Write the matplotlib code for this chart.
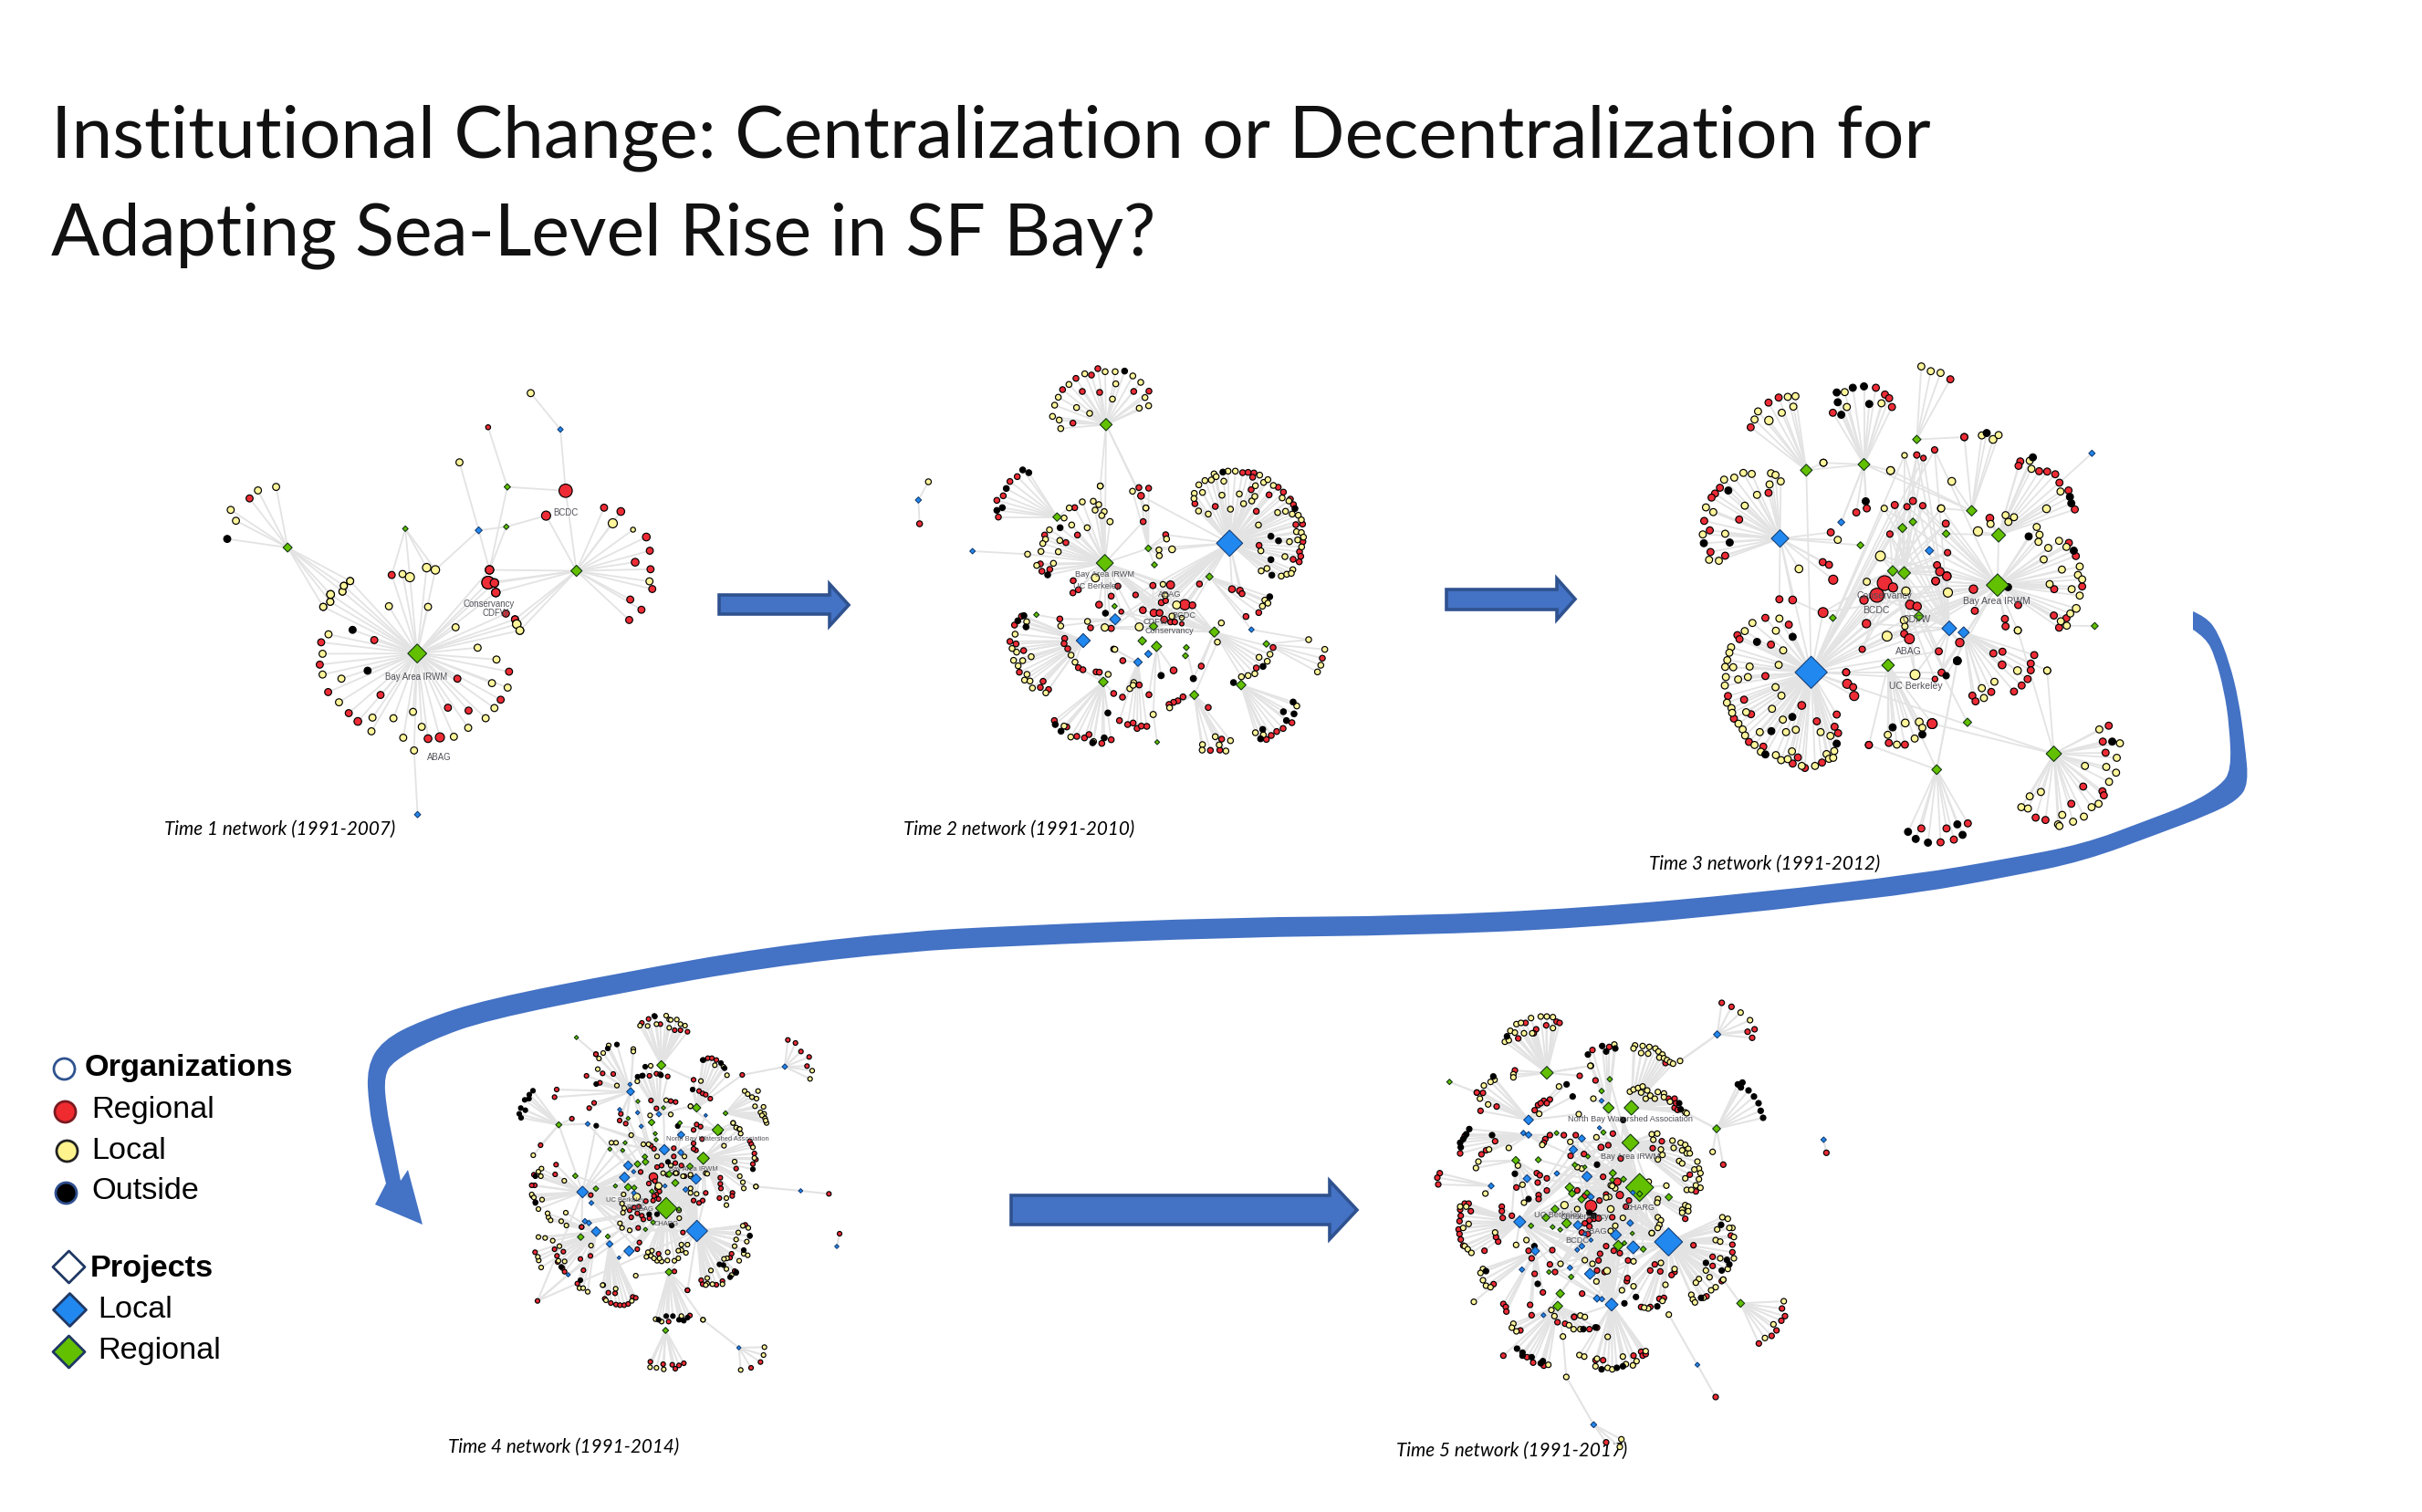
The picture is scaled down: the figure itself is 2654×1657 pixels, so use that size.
import matplotlib
matplotlib.use("Agg")
import matplotlib.pyplot as plt
from matplotlib.collections import LineCollection
from matplotlib.path import Path
from matplotlib.patches import PathPatch, Polygon

W, H = 2654, 1658
RED = "#ee2c36"
YEL = "#fff59a"
BLK = "#000000"
GRN = "#62c000"
BLU = "#2188f0"
ARROW = "#4472c4"
ARROW_EDGE = "#2f528f"

title_lines = [("Institutional Change: Centralization or Decentralization for", 172, 57.8),
               ("Adapting Sea-Level Rise in SF Bay?", 279, 56.8)]
captions = [("Time 1 network (1991-2007)", 180, 915),
            ("Time 2 network (1991-2010)", 990, 915),
            ("Time 3 network (1991-2012)", 1807, 953),
            ("Time 4 network (1991-2014)", 491, 1592),
            ("Time 5 network (1991-2017)", 1530, 1596)]

# straight arrows: tail x, head base x, tip x, shaft top, shaft bottom, head top, head bottom
straight_arrows = [(788, 909, 930, 653, 674, 641, 687),
                   (1585, 1706, 1726, 647, 669, 635, 680),
                   (1108, 1457, 1487, 1311, 1343, 1295, 1359)]

curve_outer = [(2403, 671), (2417, 677), (2430, 693), (2443, 727), (2453, 767), (2460, 817), (2464, 860),
               (2452, 878), (2420, 894), (2367, 914), (2283, 945), (2200, 962), (2100, 980), (2000, 991),
               (1929, 1000), (1738, 1018), (1546, 1026), (1355, 1028), (1100, 1038), (992, 1044), (839, 1061),
               (686, 1088), (533, 1119), (472, 1141), (431, 1164), (421, 1180), (423, 1213), (431, 1253),
               (439, 1295)]
curve_head = [(447, 1283), (463, 1343), (411, 1321)]
curve_inner = [(423, 1298), (411, 1250), (404, 1213), (402, 1170), (419, 1141), (462, 1119), (533, 1096),
               (686, 1066), (839, 1039), (992, 1022), (1100, 1016), (1355, 1006), (1546, 1005), (1738, 996),
               (1929, 979), (2100, 959), (2200, 942), (2283, 926), (2350, 901), (2400, 882), (2433, 862),
               (2445, 845), (2443, 797), (2437, 757), (2427, 720), (2417, 700), (2403, 691)]

# legend rows: text, text x, text y, bold, marker, marker x, marker y, size, fill, edge
legend_rows = [("Organizations", 93, 1171, True, "o", 70, 1172, 23, "white", "#2f528f"),
               ("Regional", 100, 1217, False, "o", 71, 1219, 23, "#f02b30", "#7a1a20"),
               ("Local", 100, 1261, False, "o", 73, 1262, 23, "#fff38d", "#222222"),
               ("Outside", 100, 1305, False, "o", 72, 1308, 23, "#000000", "#2f4f8f"),
               ("Projects", 99, 1390, True, "D", 75, 1389, 35, "white", "#1f3864"),
               ("Local", 107, 1436, False, "D", 76, 1436, 36, "#2188f0", "#1f3864"),
               ("Regional", 107, 1480, False, "D", 75, 1482, 35, "#62c000", "#1f3864")]

# ---- Time 1
t1_projects = [(672, 907, 54, "g"), (1128, 648, 32, "g"), (301, 575, 26, "g"), (930, 385, 18, "g"),
               (927, 510, 16, "g"), (638, 516, 16, "g"), (848, 521, 20, "b"), (1082, 205, 16, "b"),
               (673, 1412, 18, "b")]
t1_fans = [
    ((672, 907),
     [(397, 872), (393, 942), (417, 1028), (476, 1094), (502, 1120, 22), (567, 1037), (549, 865), (703, 1174, 22),
      (737, 1170, 26), (760, 1077), (819, 1086), (787, 986), (911, 1052), (935, 964), (599, 661), (952, 800),
      (926, 782), (879, 645, 24), (875, 685, 36), (893, 686, 24), (897, 716, 24)],
     [(418, 847), (401, 908), (401, 973), (455, 986), (448, 1060), (544, 1108), (541, 1151), (604, 1110), (632, 1171),
      (660, 1090), (685, 1137), (663, 1211), (777, 1168), (818, 1140), (868, 1110), (893, 1078), (931, 1014),
      (886, 1000), (899, 926), (845, 889), (782, 825), (703, 761), (591, 759), (403, 761), (423, 745), (424, 722, 22),
      (458, 713), (462, 695), (480, 680), (630, 658), (651, 668, 26), (699, 638, 24), (724, 645, 24), (957, 815, 24),
      (966, 835, 22)],
     [(487, 833), (530, 961)]),
    ((1128, 648),
     [(1207, 450), (1255, 462, 22), (1328, 542, 22), (1338, 585), (1296, 621, 22), (1340, 643), (1345, 705),
      (1282, 738), (1314, 770), (1279, 802), (1041, 475, 26), (879, 645, 24), (875, 685, 36), (893, 686, 24),
      (897, 716, 24), (952, 800)],
     [(1232, 499, 26), (1290, 519, 14), (1337, 681), (957, 815, 24), (966, 835, 22)],
     []),
    ((301, 575),
     [(192, 421)],
     [(268, 385), (216, 396), (138, 457, 20), (153, 491), (403, 761), (423, 745), (424, 722, 22), (458, 713),
      (462, 695), (480, 680)],
     [(128, 548)]),
]
t1_big_regional = [(1097, 397, 38)]
t1_small_regional = [(875, 198, 14)]
t1_small_local = [(793, 308), (997, 91)]
t1_links = [((930, 385), (875, 198)), ((930, 385), (1097, 397)), ((930, 385), (879, 645)),
            ((927, 510), (1041, 475)), ((927, 510), (848, 521)), ((927, 510), (879, 645)),
            ((848, 521), (793, 308)), ((848, 521), (879, 645)), ((848, 521), (724, 645)),
            ((1082, 205), (997, 91)), ((1082, 205), (1097, 397)), ((1097, 397), (1128, 648)),
            ((638, 516), (599, 661)), ((638, 516), (651, 668)), ((638, 516), (699, 638)), ((638, 516), (724, 645)),
            ((673, 1412), (663, 1211))]
t1_labels = [("BCDC", 1096, 463), ("Conservancy", 878, 749), ("CDFW", 895, 777),
             ("Bay Area IRWM", 668, 977), ("ABAG", 736, 1230)]

# ---- Time 2
t2_projects = [(636, 259, 40, "g"), (475, 563, 28, "g"), (632, 714, 56, "g"), (775, 666, 22, "g"), (795, 720, 20, "g"),
               (976, 759, 24, "g"), (407, 884, 18, "g"), (664, 856, 18, "g"), (792, 922, 28, "g"), (992, 941, 34, "g"),
               (755, 970, 28, "g"), (802, 988, 34, "g"), (900, 992, 20, "g"), (897, 1019, 20, "g"), (1163, 980, 22, "g"),
               (627, 1105, 32, "g"), (1080, 1115, 32, "g"), (926, 1148, 30, "g"), (804, 1303, 16, "g"),
               (1042, 649, 86, "b"), (561, 969, 46, "b"), (666, 899, 36, "b"), (775, 1013, 24, "b"), (741, 1040, 28, "b"),
               (1114, 933, 18, "b"), (197, 675, 18, "b"), (19, 507, 20, "b")]
t2_fans = [
    ((636, 259),
     [(609, 75), (588, 96), (537, 107), (493, 144), (558, 150), (615, 153), (727, 150), (777, 149), (527, 254)],
     [(566, 92), (633, 85), (666, 85), (724, 99), (750, 120), (668, 125), (514, 127), (479, 169), (467, 195), (539, 203),
      (582, 222), (460, 232), (482, 244), (487, 272), (657, 175), (764, 170), (745, 205), (776, 197), (617, 461), (767, 533)],
     [(697, 83)]),
    ((475, 563),
     [(344, 430), (320, 446), (298, 493), (277, 508), (282, 563)],
     [(515, 533), (498, 566)],
     [(362, 408), (382, 417), (308, 469), (277, 541), (295, 532)]),
    ((632, 714),
     [(533, 532), (542, 622), (434, 622), (504, 647), (420, 717), (425, 741), (451, 735), (528, 772), (527, 812),
      (545, 802), (675, 790), (653, 823), (613, 851, 22)],
     [(558, 513), (594, 511), (612, 522), (600, 540), (630, 545), (622, 558), (649, 578, 20), (523, 589), (574, 598),
      (450, 605), (437, 636), (428, 650), (484, 640), (422, 676), (479, 677), (378, 685), (463, 715), (408, 722),
      (617, 461), (601, 763, 26)],
     [(485, 598), (444, 753)]),
    ((1042, 649),
     [(1085, 417), (1103, 416), (1122, 418), (1118, 432), (1113, 473), (1202, 465), (1219, 481), (1172, 490), (928, 519),
      (995, 528), (1130, 544), (1242, 504), (1252, 522), (1260, 588), (1282, 586), (1283, 644), (1272, 677), (1276, 692),
      (1251, 702), (1271, 710), (1139, 656), (1050, 800, 22), (1076, 805, 22), (1083, 815), (943, 783)],
     [(991, 421), (961, 443), (982, 441), (998, 430), (1037, 412), (1061, 412), (941, 457), (1023, 445), (926, 485),
      (925, 502), (953, 482), (940, 543), (972, 553), (1017, 491), (1074, 487), (1045, 537), (1088, 519), (1115, 510),
      (1125, 495), (1127, 460), (1141, 425), (1154, 449), (1168, 440), (1186, 459), (1215, 500), (1237, 510), (1200, 548),
      (1226, 544), (1248, 553), (1268, 557), (1278, 572), (1137, 589), (1262, 611), (1278, 614), (1285, 629), (1239, 644),
      (1266, 638), (1279, 661), (1145, 674), (1224, 693), (1250, 736), (1146, 740), (1165, 732), (1212, 757), (1230, 751),
      (1245, 748)],
     [(1020, 415), (1257, 535), (1178, 626), (1203, 641), (1178, 703), (1181, 754)]),
    ((775, 666),
     [(832, 621), (758, 578), (744, 466), (776, 468), (751, 493, 22)],
     [(835, 635), (810, 671), (811, 690), (853, 669, 22), (723, 478), (767, 533)],
     []),
    ((561, 969),
     [(358, 889), (335, 918), (320, 972), (340, 980), (365, 1002), (351, 1073), (429, 1103), (420, 1123), (447, 1130),
      (500, 962), (498, 979), (510, 996)],
     [(375, 907), (337, 948), (327, 995), (342, 1007), (390, 1022), (332, 1034), (362, 1035), (347, 1052), (376, 1080),
      (368, 1099), (386, 1102), (394, 1125), (438, 1141), (521, 1017), (534, 1040)],
     [(366, 887), (346, 904), (373, 924)]),
    ((666, 899),
     [(484, 898), (585, 927)],
     [(487, 921), (575, 906)],
     [(634, 879)]),
    ((627, 1105),
     [(545, 1058), (560, 1065), (603, 1072), (614, 1073), (466, 1232), (507, 1253), (540, 1284), (565, 1289), (580, 1278),
      (622, 1307), (653, 1295), (661, 1143)],
     [(643, 1080), (498, 1250), (520, 1286), (595, 1301)],
     [(469, 1245), (488, 1267), (642, 1207), (630, 1289), (592, 1305)]),
    ((741, 1040),
     [(691, 1035), (661, 997), (745, 1115), (690, 1155), (680, 1232), (707, 1245), (725, 1240), (738, 1258), (752, 1250),
      (770, 1251)],
     [(665, 998), (727, 1107), (714, 1127), (725, 1116)],
     []),
    ((802, 988), [(858, 1067, 22), (777, 1147)], [(791, 1212, 20)], [(817, 1084, 20)]),
    ((926, 1148),
     [(889, 1154), (872, 1167), (858, 1172), (843, 1179), (972, 1189), (1016, 1293), (979, 1330), (1010, 1329)],
     [(845, 1190), (995, 1285), (953, 1311), (952, 1329), (1008, 1312), (1045, 1298), (1030, 1332)],
     []),
    ((1080, 1115),
     [(1247, 1239), (1218, 1258), (1197, 1268), (1179, 1281), (1163, 1294)],
     [(1263, 1184), (1127, 1272), (1153, 1279)],
     [(1055, 1107), (1251, 1171), (1219, 1203), (1254, 1210), (1229, 1232), (1151, 1261), (1144, 1292)]),
    ((992, 941),
     [(1185, 992), (1130, 1059), (949, 1053)],
     [(1015, 911), (1002, 974), (1139, 1024), (1175, 1014), (1166, 1037), (1125, 1078), (1103, 1084), (1081, 1088)],
     [(1152, 1054), (923, 1094, 20)]),
    ((1163, 980), [(1347, 1027)], [(1302, 966), (1355, 998), (1342, 1050), (1331, 1072)], []),
    ((976, 759), [(1138, 877), (1096, 890)], [(1158, 836), (1168, 846), (1150, 856)], [(1174, 825)]),
    ((19, 507), [(23, 585)], [(52, 447)], []),
]
t2_center_hubs = [(632, 714), (1042, 649), (792, 922), (992, 941)]
t2_center_regional = [(848, 786, 26), (895, 851, 34), (920, 853, 22), (793, 878, 24), (812, 878, 22), (757, 869, 22),
                      (790, 788, 20), (733, 819, 18), (818, 844, 20), (832, 838, 18), (827, 900, 22), (848, 908, 18),
                      (862, 908, 18), (885, 914, 14), (686, 874, 16), (653, 929, 20)]
t2_center_local = [(823, 784, 18), (868, 852, 26), (853, 889, 20), (745, 924, 26), (632, 926, 24), (830, 820, 20),
                   (885, 894, 16)]
t2_center_outside = []
t2_links = [((636, 259), (632, 714)), ((636, 259), (751, 493)), ((197, 675), (378, 685)), ((1042, 649), (751, 493)),
            ((1042, 649), (832, 621)), ((1042, 649), (853, 669)), ((775, 666), (632, 714)), ((775, 666), (1042, 649)),
            ((1114, 933), (1302, 966)), ((1114, 933), (976, 759)), ((804, 1303), (791, 1212)), ((926, 1148), (1002, 974)),
            ((900, 992), (923, 1094)), ((407, 884), (484, 898)), ((795, 720), (775, 666)), ((632, 714), (758, 578))]
t2_labels = [("Bay Area IRWM", 632, 750), ("UC Berkeley", 605, 787), ("ABAG", 846, 815), ("BCDC", 893, 884),
             ("CDFW", 800, 905), ("Conservancy", 843, 935)]

# ---- Time 3
t3_projects = [(468, 368, 34, "g"), (633, 351, 34, "g"), (784, 277, 24, "g"), (941, 488, 30, "g"), (1018, 560, 40, "g"),
               (1015, 708, 64, "g"), (715, 666, 30, "g"), (748, 672, 36, "g"), (743, 539, 26, "g"), (773, 521, 22, "g"),
               (868, 556, 22, "g"), (623, 590, 20, "g"), (544, 805, 20, "g"), (790, 800, 28, "g"), (702, 945, 36, "g"),
               (841, 1254, 28, "g"), (1176, 1207, 44, "g"), (929, 1114, 24, "g"), (1293, 829, 20, "g"),
               (393, 570, 50, "b"), (482, 966, 92, "b"), (877, 836, 42, "b"), (918, 848, 32, "b"), (820, 606, 24, "b"),
               (568, 522, 20, "b"), (1285, 318, 18, "b")]
t3_fans = [
    ((468, 368), [(309, 241), (360, 168), (389, 153)],
     [(320, 218), (330, 194), (361, 221, 24), (398, 198), (415, 151), (437, 149), (431, 180), (517, 346)], []),
    ((633, 351), [(667, 124), (693, 144), (705, 155), (713, 181), (544, 198), (641, 481), (611, 493)],
     [(578, 137), (584, 181), (683, 170), (517, 346), (709, 369, 22)],
     [(555, 138), (601, 124), (633, 120), (558, 167), (648, 172), (568, 204), (638, 460)]),
    ((784, 277), [(880, 99), (920, 270)], [(797, 61), (824, 75), (852, 80)], []),
    ((941, 488), [(920, 270)], [(970, 265), (1002, 277, 22), (1018, 264), (884, 401, 22), (853, 481), (709, 369, 22)],
     [(984, 258)]),
    ((1018, 560), [(1080, 342), (1075, 355), (1134, 371), (1157, 372), (1180, 380), (1192, 405), (1218, 428), (1236, 484),
                   (993, 510, 22)],
     [(1107, 340), (1112, 364), (1195, 431), (1155, 482, 22), (1038, 501), (1062, 507), (1046, 521), (995, 527), (959, 549, 26)],
     [(1116, 330), (1222, 447), (1226, 466)]),
    ((393, 570),
     [(221, 420), (207, 437), (197, 449), (360, 435), (276, 514), (176, 518), (192, 546), (194, 610), (236, 621), (538, 552),
      (515, 640), (533, 648), (545, 692, 26), (391, 750), (429, 752, 22)],
     [(233, 396), (262, 390), (288, 376), (312, 379), (367, 377), (380, 382), (395, 401), (363, 410), (327, 441), (292, 473),
      (181, 478), (202, 492), (172, 558), (236, 556), (190, 633), (218, 636), (447, 660, 22), (558, 574)],
     [(245, 428), (175, 584), (249, 582)]),
    ((1015, 708),
     [(1219, 583), (1239, 622), (1257, 712), (1177, 720), (1074, 767), (950, 784), (946, 720, 24), (1036, 808), (1038, 830),
      (1176, 798), (1212, 806), (1191, 834), (870, 681, 24), (838, 696, 22)],
     [(1127, 536), (1135, 559), (1132, 580), (1191, 577), (1212, 595), (1160, 598), (1147, 632), (1199, 662), (1250, 653),
      (1245, 678), (1257, 691), (1164, 705), (1227, 720), (1250, 739), (1240, 777, 22), (1223, 792), (1196, 815), (1213, 828),
      (1073, 842), (873, 730, 26)],
     [(1104, 564), (1233, 606), (1045, 714)]),
    ((482, 966),
     [(351, 805), (418, 825), (271, 856), (277, 868), (367, 884), (351, 977), (290, 1047), (244, 1036), (455, 1064, 22),
      (310, 1090), (261, 1103), (555, 1091), (498, 1111), (549, 1127), (559, 1146), (304, 1172), (345, 1186), (444, 1218),
      (429, 1236), (464, 1249), (513, 1233), (582, 966), (585, 1000, 26), (602, 1010), (605, 1036, 26)],
     [(391, 807), (314, 820), (292, 844), (381, 843), (402, 901), (253, 892), (248, 908), (242, 930), (236, 950), (259, 951),
      (306, 949), (389, 944), (238, 980), (273, 987), (301, 980), (235, 1005), (380, 1010), (397, 1035), (241, 1056), (254, 1072),
      (370, 1074), (296, 1084), (256, 1086), (274, 1118), (401, 1106), (286, 1135), (335, 1143), (410, 1143), (438, 1136),
      (509, 1143), (537, 1154), (293, 1153), (320, 1181), (427, 1200), (338, 1201), (381, 1211), (396, 1226), (415, 1223),
      (455, 1243), (493, 1243), (526, 1208), (548, 1199), (533, 1222), (545, 1219)],
     [(429, 861), (327, 876), (428, 1098), (368, 1140), (555, 1177), (351, 1209)]),
    ((702, 945), [(582, 966), (704, 1175), (750, 1180), (828, 1118, 28), (647, 1181)],
     [(751, 1116, 22), (791, 1113, 22), (800, 1130), (701, 1151), (727, 1180), (778, 1162)], [(715, 1129), (800, 1150)]),
    ((841, 1254), [(797, 1428), (869, 1428), (852, 1469), (890, 1461), (930, 1413), (647, 1181)], [],
     [(759, 1438), (781, 1459), (816, 1470), (900, 1416), (915, 1447), (900, 932, 22)]),
    ((1176, 1207),
     [(1333, 1124), (1316, 1171), (1324, 1204), (1260, 1304), (1315, 1318), (1319, 1330), (1226, 1355), (1124, 1396), (1152, 1403),
      (828, 1118, 28)],
     [(1306, 1135), (1365, 1176), (1356, 1219), (1265, 1243), (1326, 1246), (1354, 1263), (1334, 1290), (1139, 1320), (1107, 1333),
      (1304, 1355), (1284, 1365), (1083, 1365), (1102, 1369), (1262, 1393), (1231, 1408), (1200, 1388), (1188, 1416), (1192, 1421),
      (1157, 961, 20), (1073, 842)],
     [(1343, 1171)]),
    ((918, 848),
     [(1003, 910), (1029, 905), (1120, 915), (1110, 940), (1028, 944, 22), (1110, 960), (1101, 986), (1084, 1005), (1062, 1023),
      (997, 1024), (943, 1035), (952, 1052)],
     [(1072, 961, 22), (1157, 961, 20), (1006, 994), (970, 1013), (976, 1042)], [(900, 932, 22)]),
]
t3_center_hubs = [(715, 666), (748, 672), (877, 836), (482, 966), (1015, 708)]
t3_center_regional = [(692, 702, 42), (670, 738, 40), (716, 715, 26), (633, 752, 24), (765, 766, 26), (785, 771, 24), (640, 822, 24),
                      (748, 852, 20), (763, 867, 28), (842, 649, 20), (850, 668, 24), (870, 682, 24), (838, 696, 22), (867, 526, 20),
                      (872, 612, 18), (707, 557, 18), (721, 471, 20), (756, 476, 18), (773, 459, 20), (801, 473, 18), (784, 323, 18),
                      (803, 332, 16), (835, 308, 18), (516, 789, 28), (628, 898, 18), (907, 878, 24), (847, 904, 20), (855, 967, 20),
                      (836, 986, 16)]
t3_center_local = [(680, 622, 28), (641, 698, 20), (753, 726, 24), (699, 859, 28), (748, 812, 22), (750, 830, 18), (779, 973, 28),
                   (749, 324, 16), (691, 481, 18), (854, 481)]
t3_center_outside = [(868, 976, 18)]
t3_links = [((1285, 318), (1192, 405)), ((1293, 829), (1213, 828)), ((929, 1114), (855, 967)), ((544, 805), (429, 752)),
            ((468, 368), (633, 351)), ((468, 368), (482, 966)), ((393, 570), (482, 966)), ((633, 351), (941, 488)),
            ((568, 522), (633, 351)), ((623, 590), (393, 570)), ((743, 539), (748, 672)), ((773, 521), (748, 672)),
            ((868, 556), (1018, 560)), ((820, 606), (1015, 708)), ((1018, 560), (1015, 708)), ((790, 800), (1015, 708)),
            ((482, 966), (1176, 1207)), ((702, 945), (841, 1254)), ((841, 1254), (900, 932)), ((633, 351), (568, 522))]
t3_labels = [("Conservancy", 692, 738), ("BCDC", 668, 780), ("CDFW", 784, 806), ("ABAG", 760, 903),
             ("UC Berkeley", 780, 1005), ("Bay Area IRWM", 1012, 753)]

# ---- Time 4
t4_projects = [(554, 235, 30, "g"), (670, 375, 28, "g"), (740, 448, 38, "g"), (692, 541, 40, "g"), (765, 393, 16, "g"), (217, 431, 20, "g"),
               (271, 599, 18, "g"), (339, 641, 18, "g"), (289, 800, 22, "g"), (378, 798, 16, "g"), (570, 705, 70, "g"), (579, 915, 24, "g"),
               (568, 1107, 20, "g"), (522, 423, 22, "g"), (445, 410, 14, "g"), (435, 490, 14, "g"), (427, 515, 14, "g"), (385, 511, 14, "g"),
               (477, 354, 14, "g"), (561, 375, 14, "g"), (615, 425, 16, "g"), (534, 460, 14, "g"), (537, 480, 14, "g"), (476, 560, 22, "g"),
               (500, 536, 18, "g"), (502, 553, 22, "g"), (445, 636, 24, "g"), (465, 638, 18, "g"), (403, 632, 14, "g"), (580, 593, 22, "g"),
               (648, 568, 22, "g"), (600, 622, 24, "g"), (523, 650, 16, "g"), (502, 775, 14, "g"), (527, 752, 16, "g"), (275, 144, 14, "g"),
               (612, 708, 14, "g"),
               (453, 322, 26, "b"), (451, 298, 14, "b"), (417, 381, 14, "b"), (476, 391, 14, "b"), (546, 396, 18, "b"), (700, 400, 12, "b"),
               (312, 428, 16, "b"), (488, 436, 14, "b"), (619, 464, 24, "b"), (564, 513, 34, "b"), (618, 522, 20, "b"), (445, 565, 30, "b"),
               (433, 604, 34, "b"), (668, 609, 34, "b"), (295, 652, 38, "b"), (324, 688, 16, "b"), (634, 644, 18, "b"), (566, 632, 14, "b"),
               (463, 585, 14, "b"), (340, 782, 32, "b"), (303, 748, 18, "b"), (316, 754, 18, "b"), (384, 823, 22, "b"), (448, 846, 34, "b"),
               (415, 868, 12, "b"), (671, 780, 70, "b"), (960, 240, 18, "b"), (1012, 648, 14, "b"), (1131, 831, 14, "b"), (809, 1164, 14, "b"),
               (248, 924, 14, "b"), (464, 655, 16, "b")]
t4_fans = [
    ((554, 235), [(533, 75), (512, 83), (490, 96), (551, 100), (598, 120), (617, 120), (640, 125)],
     [(509, 106), (484, 105), (538, 100), (570, 72), (580, 85), (585, 86), (605, 85), (617, 100), (580, 112), (632, 105)], [(531, 73)]),
    ((275, 144), [(339, 199)], [], []),
    ((217, 431), [(260, 411), (157, 498)], [(133, 531)],
     [(132, 319), (120, 332), (105, 349), (119, 345), (92, 376), (107, 383), (87, 395), (93, 408)]),
    ((295, 652), [(135, 595), (138, 630), (140, 685), (208, 562), (205, 594), (128, 630), (130, 665), (322, 662), (292, 767)],
     [(150, 585), (160, 575), (128, 660), (135, 670), (162, 677), (150, 708), (235, 615), (158, 600)], [(140, 600), (140, 688)]),
    ((340, 782), [(203, 840), (232, 848), (292, 767), (139, 850), (213, 882), (211, 862), (288, 872), (321, 862), (298, 909),
                  (229, 902), (236, 914), (278, 953)],
     [(183, 735), (240, 720), (225, 748), (242, 762), (150, 800), (172, 803), (197, 812), (219, 830), (180, 722), (190, 745),
      (323, 828), (151, 877), (148, 865), (159, 900), (236, 880), (216, 878), (285, 968), (312, 980), (297, 968)],
     [(288, 942), (225, 898)]),
    ((384, 823), [(363, 958), (380, 983), (402, 985), (368, 1003), (388, 1017), (405, 1022), (418, 1024), (432, 1024), (445, 1020),
                  (460, 997), (470, 1000)],
     [(361, 958), (404, 970), (372, 1008), (457, 1010)], []),
    ((453, 322), [(339, 199), (308, 270), (361, 262), (396, 264), (352, 293), (317, 376), (333, 359), (210, 315), (203, 340), (417, 417),
                  (437, 427), (421, 395)],
     [(349, 213), (363, 195), (345, 248), (381, 170), (408, 302), (462, 182), (462, 190)], [(408, 167), (340, 297), (378, 180)]),
    ((546, 396), [(538, 263), (515, 270), (550, 265), (575, 272), (490, 270), (520, 351), (538, 377), (585, 353), (601, 356)],
     [(519, 237), (475, 288), (585, 397), (517, 400), (570, 350), (650, 370)], [(501, 240), (476, 273), (493, 269), (553, 268)]),
    ((670, 375), [(693, 218), (707, 212), (720, 212), (735, 218), (660, 283), (678, 320), (690, 328), (700, 332), (715, 345)],
     [(730, 235), (770, 268), (684, 287), (758, 240)], [(690, 218), (750, 228), (762, 245), (657, 315)]),
    ((740, 448), [(660, 448), (670, 430), (683, 437), (688, 478), (745, 455)],
     [(760, 500), (650, 370), (790, 425), (800, 440), (810, 445)], [(608, 435)]),
    ((765, 393), [], [(828, 320), (838, 330), (852, 340), (872, 320), (867, 345), (890, 372), (862, 370), (880, 390), (892, 395),
                      (885, 400), (895, 410), (900, 425), (897, 417)], []),
    ((692, 541), [(845, 485), (850, 495), (860, 525), (865, 545), (855, 560), (800, 575), (748, 605), (748, 625), (750, 640), (788, 655),
                  (787, 665), (745, 672)],
     [(790, 425), (812, 445), (815, 460), (855, 505), (860, 540), (795, 552), (812, 600), (822, 620), (825, 640), (768, 672), (768, 695),
      (865, 634)], [(855, 577)]),
    ((960, 240), [(970, 152), (995, 162), (1013, 190), (1040, 208), (1033, 238), (820, 267)], [(1050, 253), (1043, 280)], []),
    ((1012, 648), [(1105, 658)], [(865, 634)], []),
    ((1131, 831), [(1140, 789)], [], []),
    ((671, 780), [(830, 760), (845, 795), (785, 855), (780, 868), (795, 912), (800, 918), (735, 957), (685, 942), (690, 955), (755, 945),
                  (640, 975), (625, 785)],
     [(822, 763), (840, 770), (807, 785), (800, 808), (835, 815), (795, 830), (825, 855), (770, 870), (760, 872), (838, 860), (810, 878),
      (717, 910), (705, 935), (722, 955), (705, 953), (755, 955), (785, 925), (700, 958), (768, 905), (640, 825), (620, 825)],
     [(845, 797), (825, 843), (758, 892), (745, 890), (800, 915), (780, 932)]),
    ((570, 705), [(545, 855)],
     [(523, 845), (510, 850), (575, 850), (520, 862), (540, 878), (555, 880), (574, 877), (597, 878), (610, 870), (635, 852), (620, 843),
      (505, 865), (530, 870), (548, 870), (610, 845)], [(588, 762)]),
    ((579, 915), [(597, 913), (640, 975), (578, 1078), (648, 1058), (620, 1070)],
     [(555, 1078), (535, 1070), (620, 1060), (470, 927), (691, 1072)],
     [(545, 1072), (570, 1060), (592, 1060), (628, 1075), (612, 1072), (640, 1065)]),
    ((568, 1107), [(518, 1210), (560, 1218), (590, 1220), (600, 1233), (612, 1222), (628, 1215)], [(517, 1228), (538, 1230), (562, 1235)], []),
    ((809, 1164), [(880, 1211), (849, 1230)], [(893, 1162), (890, 1188), (815, 1237), (691, 1072)], []),
]
t4_center_hubs = [(570, 705), (671, 780), (692, 541), (295, 652), (564, 513)]
t4_center_regional = [(528, 603, 28), (513, 624), (533, 616), (486, 586), (520, 500), (530, 510), (540, 570), (555, 565), (600, 557), (620, 565),
                      (595, 535), (660, 492), (668, 515), (575, 595), (600, 590), (540, 640), (548, 650), (538, 660), (545, 675), (503, 682),
                      (527, 680), (530, 665), (465, 703), (450, 712), (475, 722), (490, 730), (495, 742), (515, 738), (478, 770), (455, 735),
                      (480, 700), (700, 655), (690, 680), (678, 688), (660, 680), (605, 590), (630, 600), (475, 840), (482, 818), (660, 510),
                      (595, 508)]
t4_center_local = [(545, 632, 22), (473, 668, 24), (430, 660), (425, 690), (432, 705), (428, 720), (418, 755), (425, 770), (450, 778), (612, 712),
                   (613, 738), (540, 535), (585, 565), (560, 590), (650, 600), (602, 590), (625, 600), (650, 640), (650, 655), (670, 658),
                   (700, 590), (705, 592), (630, 535), (405, 490), (390, 490), (455, 465), (495, 495), (512, 495), (650, 595)]
t4_center_outside = [(576, 553), (340, 434), (514, 725), (540, 725)]
t4_links = [((554, 235), (660, 283)), ((670, 375), (820, 267)), ((217, 431), (295, 652)), ((217, 431), (312, 428)), ((248, 924), (147, 1010)),
            ((579, 915), (671, 780))]
t4_extra_regional = [(147, 1010)]
t4_labels = [("North Bay Watershed Association", 738, 477), ("Bay Area IRWM", 660, 575), ("UC Berkeley", 435, 678), ("BCDC", 470, 700),
             ("ABAG", 500, 708), ("CHARG", 570, 755)]

# ---- Time 5
t5_projects = [(405, 260, 42, "g"), (85, 290, 18, "g"), (612, 281, 18, "g"), (585, 320, 18, "g"), (608, 375, 36, "g"), (683, 375, 48, "g"),
               (963, 444, 26, "g"), (680, 490, 56, "g"), (437, 458, 16, "g"), (591, 456, 18, "g"), (303, 548, 26, "g"), (377, 546, 20, "g"),
               (540, 535, 16, "g"), (497, 563, 18, "g"), (530, 570, 14, "g"), (622, 590, 24, "g"), (620, 612, 18, "g"), (657, 610, 20, "g"),
               (480, 637, 30, "g"), (488, 657, 24, "g"), (537, 655, 20, "g"), (519, 676, 24, "g"), (710, 637, 92, "g"), (710, 658, 20, "g"),
               (806, 669, 24, "g"), (432, 708, 26, "g"), (402, 736, 26, "g"), (470, 755, 32, "g"), (353, 763, 18, "g"), (424, 767, 16, "g"),
               (449, 776, 16, "g"), (640, 828, 34, "g"), (660, 820, 16, "g"), (686, 788, 14, "g"), (722, 840, 20, "g"), (412, 915, 16, "g"),
               (485, 931, 18, "g"), (449, 986, 28, "g"), (441, 1027, 32, "g"), (1042, 1018, 26, "g"),
               (965, 134, 24, "b"), (585, 352, 16, "b"), (345, 415, 32, "b"), (328, 458, 18, "b"), (345, 464, 22, "b"), (578, 441, 14, "b"),
               (520, 476, 24, "b"), (492, 513, 28, "b"), (537, 601, 34, "b"), (438, 591, 18, "b"), (340, 608, 26, "b"), (222, 632, 20, "b"),
               (688, 654, 16, "b"), (550, 668, 22, "b"), (316, 750, 40, "b"), (507, 761, 30, "b"), (530, 790, 14, "b"), (550, 810, 14, "b"),
               (632, 793, 36, "b"), (679, 754, 22, "b"), (805, 816, 92, "b"), (689, 834, 42, "b"), (367, 846, 28, "b"), (505, 842, 16, "b"),
               (520, 830, 20, "b"), (323, 907, 18, "b"), (481, 901, 18, "b"), (547, 921, 36, "b"), (570, 1002, 24, "b"), (586, 1004, 18, "b"),
               (618, 1022, 42, "b"), (394, 1057, 16, "b"), (900, 1220, 16, "b"), (559, 1417, 20, "b"), (1315, 480, 18, "b")]
t5_fans = [
    ((405, 260), [(335, 96), (403, 104), (437, 92), (447, 96), (370, 117), (362, 130), (311, 147), (300, 252), (513, 270)],
     [(353, 80), (385, 75), (405, 75), (425, 77), (305, 100), (320, 96), (285, 122), (300, 128), (267, 158), (280, 153), (330, 130),
      (425, 113), (357, 130), (295, 265), (295, 275), (550, 237)], [(274, 140)]),
    ((85, 290), [(175, 325)], [], []),
    ((345, 415), [(175, 325), (195, 326), (187, 385), (240, 371), (376, 366), (395, 352), (415, 348), (365, 383), (405, 360), (385, 360)],
     [(233, 283), (220, 290), (198, 302), (185, 345), (212, 364), (380, 395), (510, 396), (445, 305)], [(229, 272), (490, 338), (470, 298)]),
    ((345, 464), [(135, 468), (120, 525), (190, 528), (235, 485), (205, 515), (461, 465), (400, 478), (415, 465), (395, 490)],
     [(215, 512), (280, 507), (390, 497)], [(150, 445), (140, 462), (130, 478), (120, 490), (122, 505), (225, 465)]),
    ((303, 548), [(372, 590), (382, 597), (405, 607), (375, 621), (305, 637), (405, 647), (378, 662), (378, 675), (290, 730)],
     [(180, 552), (172, 573), (310, 565), (330, 687), (325, 628)], [(300, 592), (345, 675)]),
    ((222, 632), [(53, 590), (45, 605), (48, 627)], [(203, 657)], []),
    ((316, 750), [(135, 690), (148, 690), (120, 710), (155, 715), (122, 730), (118, 748), (115, 775), (118, 790), (122, 808), (130, 828),
                  (245, 815), (238, 800), (257, 700), (257, 715), (260, 737), (200, 845)],
     [(120, 700), (140, 700), (148, 757), (130, 770), (235, 785), (135, 830), (145, 840), (157, 852), (304, 826)], []),
    ((367, 846), [(345, 845), (355, 870), (230, 955), (365, 921), (392, 982), (262, 1020), (270, 1030), (272, 1045), (350, 1023), (355, 1057)],
     [(338, 810), (195, 905), (187, 918), (195, 942), (205, 960), (220, 965), (165, 1013)], [(205, 912), (364, 830), (375, 954)]),
    ((441, 1027), [(262, 1190), (340, 1195), (360, 1213), (395, 1223), (318, 1107), (440, 1080), (465, 1085), (495, 1062), (570, 1098), (545, 1103)],
     [(295, 1085), (290, 1098), (305, 1110), (410, 1220), (420, 1040), (430, 1060), (478, 1090), (493, 1103), (515, 1058), (530, 1063),
      (515, 1103), (458, 1127)],
     [(307, 1167), (325, 1180), (355, 1195), (385, 1215), (325, 1190), (392, 1208), (525, 1103), (565, 1097)]),
    ((618, 1022), [(565, 1205), (590, 1205), (715, 1177), (690, 1190), (720, 1190), (730, 1185), (495, 1063), (521, 986)],
     [(605, 1128), (512, 1188), (528, 1193), (655, 1193), (565, 1225), (605, 1230), (620, 1235), (665, 1218), (700, 1208), (730, 1175),
      (688, 1222), (570, 1200)], [(585, 1235), (635, 1230), (655, 1225)]),
    ((805, 816), [(887, 827), (950, 865), (1010, 795), (1015, 825), (1015, 850), (950, 895), (980, 945), (930, 995), (715, 1030), (760, 890),
                  (745, 910), (778, 913), (825, 915), (815, 925), (775, 1003), (790, 1000), (745, 1030)],
     [(982, 735), (1000, 740), (965, 775), (1015, 770), (1005, 770), (960, 810), (975, 815), (1020, 800), (1020, 870), (1000, 905), (905, 938),
      (940, 932), (895, 950), (928, 910), (975, 870), (985, 940), (960, 965), (945, 975), (880, 990), (885, 1005), (892, 1015), (920, 1000),
      (780, 885), (825, 905), (795, 957), (738, 1035), (725, 1032), (785, 1010), (750, 787), (652, 975), (690, 962)],
     [(978, 760), (928, 885), (997, 875), (1005, 890), (980, 910), (912, 1000), (768, 1028), (660, 1018), (698, 997)]),
    ((1042, 1018), [(1178, 1035), (1188, 1060), (1176, 1075), (1160, 1107), (1144, 1125), (1102, 1150), (985, 940)],
     [(1184, 1011), (1150, 1087), (1122, 1132)], []),
    ((965, 134), [(980, 30), (1012, 43), (1065, 125), (1088, 117), (1080, 145)], [(1042, 62), (1073, 87), (843, 221)], []),
    ((963, 444), [(985, 562)], [(950, 520), (860, 390)],
     [(1033, 298), (1048, 292), (1043, 308), (1068, 318), (1086, 338), (1101, 360), (1108, 385), (1116, 408)]),
    ((683, 375), [(805, 345), (825, 345), (825, 375), (835, 382), (830, 360), (795, 228)],
     [(678, 322), (690, 315), (705, 310), (720, 305), (715, 325), (735, 318), (745, 335), (770, 323), (790, 328), (730, 345), (790, 340),
      (760, 345), (810, 355), (865, 393), (695, 170), (720, 172), (742, 175), (690, 180), (715, 195), (738, 197), (762, 180), (772, 190),
      (785, 200), (775, 210), (790, 212), (800, 218), (810, 225), (820, 230)], [(840, 360), (845, 380)]),
    ((608, 375), [(555, 185), (610, 175), (565, 285)], [(627, 167), (558, 345), (548, 237)], [(540, 200), (587, 172), (630, 180), (600, 190)]),
    ((680, 490), [(783, 485), (753, 508), (875, 595), (895, 650)],
     [(750, 462), (768, 460), (755, 480), (818, 483), (822, 507), (845, 490), (860, 497), (870, 510), (850, 515), (865, 525), (875, 525), (780, 512),
      (785, 530), (840, 550), (850, 558), (900, 552), (905, 575), (890, 578), (860, 607), (910, 590), (905, 610), (895, 630), (910, 638), (865, 645),
      (880, 645), (770, 545)], []),
    ((710, 637), [(860, 740)],
     [(798, 631), (770, 675), (768, 687), (850, 710), (860, 695), (870, 700), (870, 715), (850, 720), (770, 735), (780, 745), (775, 760), (770, 770),
      (750, 787), (740, 618)], []),
    ((1315, 480), [(1324, 523)], [], []),
    ((900, 1220), [(960, 1326)], [(806, 1055)], []),
    ((559, 1417), [(600, 1475)], [(469, 1260), (650, 1465), (645, 1490)], []),
]
t5_center_hubs = [(710, 637), (805, 816), (618, 1022), (316, 750), (680, 490)]
t5_center_regional = [(550, 698, 38), (645, 662, 24), (637, 618, 24), (665, 700, 18), (560, 740, 18), (575, 738, 20), (620, 735), (600, 660), (578, 680),
                      (530, 665), (505, 647), (675, 680), (590, 602), (583, 505, 20), (607, 498), (622, 460), (500, 465), (527, 527), (483, 533), (648, 542),
                      (600, 830), (625, 845), (645, 853), (580, 855), (575, 877), (672, 877), (668, 945), (670, 935), (570, 910), (595, 915), (432, 915),
                      (415, 890), (423, 843), (545, 745), (530, 755), (545, 765), (520, 785), (540, 790)]
t5_center_local = [(463, 695, 24), (615, 708, 22), (655, 737), (630, 763), (615, 780), (630, 640), (615, 630), (610, 668), (555, 888), (530, 876), (450, 888),
                   (603, 911, 22), (568, 946), (520, 575), (505, 570), (568, 472), (482, 487), (620, 632), (600, 670), (505, 708), (690, 880)]
t5_center_outside = [(570, 562), (656, 415), (545, 720), (560, 730)]
t5_links = [((469, 1260), (458, 1127)), ((405, 260), (550, 237)), ((965, 134), (843, 221)), ((963, 444), (860, 390))]
t5_labels = [("North Bay Watershed Association", 680, 411), ("Bay Area IRWM", 680, 533), ("UC Berkeley", 440, 725), ("Conservancy", 530, 730),
             ("CHARG", 710, 702), ("ABAG", 565, 780), ("BCDC", 505, 810)]

# panel table: origin px, x scale, y scale, default node size, label font size, edge width
panels = [
    dict(org=(200, 400), sx=2.613, sy=2.86, size=20, fs=6.9, lw=1.3, projects=t1_projects, fans=t1_fans, links=t1_links, labels=t1_labels,
         hubs=[], cr=t1_big_regional + t1_small_regional, cl=t1_small_local, co=[], orphans=False),
    dict(org=(1000, 380), sx=3.0, sy=3.0, size=19, fs=6.6, lw=1.3, projects=t2_projects, fans=t2_fans, links=t2_links, labels=t2_labels,
         hubs=t2_center_hubs, cr=t2_center_regional, cl=t2_center_local, co=t2_center_outside, orphans=False),
    dict(org=(1800, 380), sx=2.61, sy=2.70, size=20, fs=7.5, lw=1.3, projects=t3_projects, fans=t3_fans, links=t3_links, labels=t3_labels,
         hubs=t3_center_hubs, cr=t3_center_regional, cl=t3_center_local, co=t3_center_outside, orphans=False),
    dict(org=(540, 1090), sx=3.0, sy=3.0, size=15, fs=5.4, lw=1.5, projects=t4_projects, fans=t4_fans, links=t4_links, labels=t4_labels,
         hubs=t4_center_hubs, cr=t4_center_regional + t4_extra_regional, cl=t4_center_local, co=t4_center_outside, orphans=True),
    dict(org=(1560, 1090), sx=3.0, sy=3.0, size=18, fs=6.6, lw=1.5, projects=t5_projects, fans=t5_fans, links=t5_links, labels=t5_labels,
         hubs=t5_center_hubs, cr=t5_center_regional, cl=t5_center_local, co=t5_center_outside, orphans=True),
]


def px_to_s(d_px):
    return (d_px * 72 / 100) ** 2


def smooth_path(pts):
    # quadratic spline through midpoints, ends stay put
    verts = [pts[0]]
    codes = [Path.MOVETO]
    for i in range(1, len(pts) - 1):
        mid = ((pts[i][0] + pts[i + 1][0]) / 2, (pts[i][1] + pts[i + 1][1]) / 2)
        if i == len(pts) - 2:
            mid = pts[i + 1]
        verts += [pts[i], mid]
        codes += [Path.CURVE3, Path.CURVE3]
    return verts, codes


def draw_nodes(ax, pts, color, default, sx):
    if not pts:
        return
    xs = [p[0] for p in pts]
    ys = [p[1] for p in pts]
    ss = [px_to_s((p[2] if len(p) > 2 else default) / sx) for p in pts]
    ax.scatter(xs, ys, s=ss, c=color, edgecolors="black", linewidths=0.85, zorder=3)


def draw_panel(p):
    ox, oy = p["org"]
    sx, sy = p["sx"], p["sy"]
    # panel axes use the crop units the positions were read in
    w_px, h_px = 700, 640
    ax = fig.add_axes([ox / W, 1 - (oy + h_px) / H, w_px / W, h_px / H])
    ax.set_xlim(0, w_px * sx)
    ax.set_ylim(h_px * sy, 0)
    ax.axis("off")
    ax.patch.set_alpha(0)

    segs = []
    reg, loc, out = [], [], []
    hubs_seen = set()
    for hub, r, l, o in p["fans"]:
        hubs_seen.add(hub)
        for q in r + l + o:
            segs.append((hub, q[:2]))
        reg += r
        loc += l
        out += o
    for i, q in enumerate(p["cr"] + p["cl"] + p["co"]):
        if p["hubs"]:
            segs.append((p["hubs"][i % len(p["hubs"])], q[:2]))
            segs.append((p["hubs"][(i + 2) % len(p["hubs"])], q[:2]))
            segs.append((p["hubs"][(i + 1) % len(p["hubs"])], q[:2]))
    if p["orphans"]:
        for x, y, d, k in p["projects"]:
            if (x, y) not in hubs_seen:
                segs.append((p["hubs"][0], (x, y)))
    for a, b in p["links"]:
        segs.append((a, b))
    ax.add_collection(LineCollection(segs, colors="#e3e3e3", linewidths=p["lw"], zorder=1, clip_on=False))

    draw_nodes(ax, reg + p["cr"], RED, p["size"], sx)
    draw_nodes(ax, loc + p["cl"], YEL, p["size"], sx)
    draw_nodes(ax, out + p["co"], BLK, p["size"], sx)

    for kind, col in (("g", GRN), ("b", BLU)):
        pr = [q for q in p["projects"] if q[3] == kind]
        # diagonal of the diamond is the stored size
        ss = [px_to_s(q[2] / sx / 1.414) for q in pr]
        ax.scatter([q[0] for q in pr], [q[1] for q in pr], s=ss, c=col, marker="D",
                   edgecolors="#0e2f10" if kind == "g" else "#123a70", linewidths=0.75, zorder=4)

    for txt, x, y in p["labels"]:
        ax.text(x, y, txt, ha="center", va="center", fontsize=p["fs"], color="#505058",
                family="Liberation Sans", zorder=5)


fig = plt.figure(figsize=(W / 100, H / 100), dpi=100, facecolor="white")
main = fig.add_axes([0, 0, 1, 1])
main.set_xlim(0, W)
main.set_ylim(H, 0)
main.axis("off")

for txt, y, size in title_lines:
    main.text(56, y, txt, fontsize=size, family=["Lato", "DejaVu Sans"], color="#111111", va="baseline")

for txt, x, y in captions:
    main.text(x, y, txt, fontsize=14.9, style="italic", family=["Lato", "DejaVu Sans"], color="black", va="baseline")

for tail, base, tip, s0, s1, h0, h1 in straight_arrows:
    poly = [(tail, s0), (base, s0), (base, h0), (tip, (h0 + h1) / 2), (base, h1), (base, s1), (tail, s1)]
    main.add_patch(Polygon(poly, closed=True, fc=ARROW, ec=ARROW_EDGE, lw=2.6, joinstyle="miter", zorder=2))

v1, c1 = smooth_path(curve_outer)
v2, c2 = smooth_path(curve_inner)
verts = v1 + curve_head + v2 + [curve_outer[0]]
codes = c1 + [Path.LINETO] * len(curve_head) + [Path.LINETO] + c2[1:] + [Path.CLOSEPOLY]
main.add_patch(PathPatch(Path(verts, codes), fc=ARROW, ec="none", zorder=2))

for txt, tx, ty, bold, mk, mx, my, size, fill, edge in legend_rows:
    main.text(tx, ty, txt, fontsize=24.7, family="Liberation Sans", fontweight="bold" if bold else "normal",
              color="black", va="center", ha="left")
    d = size / 1.414 if mk == "D" else size
    main.scatter([mx], [my], s=px_to_s(d), marker=mk, c=fill, edgecolors=edge, linewidths=2.0, zorder=3)

for p in panels:
    draw_panel(p)

fig.savefig("out.png", dpi=100, facecolor="white")
